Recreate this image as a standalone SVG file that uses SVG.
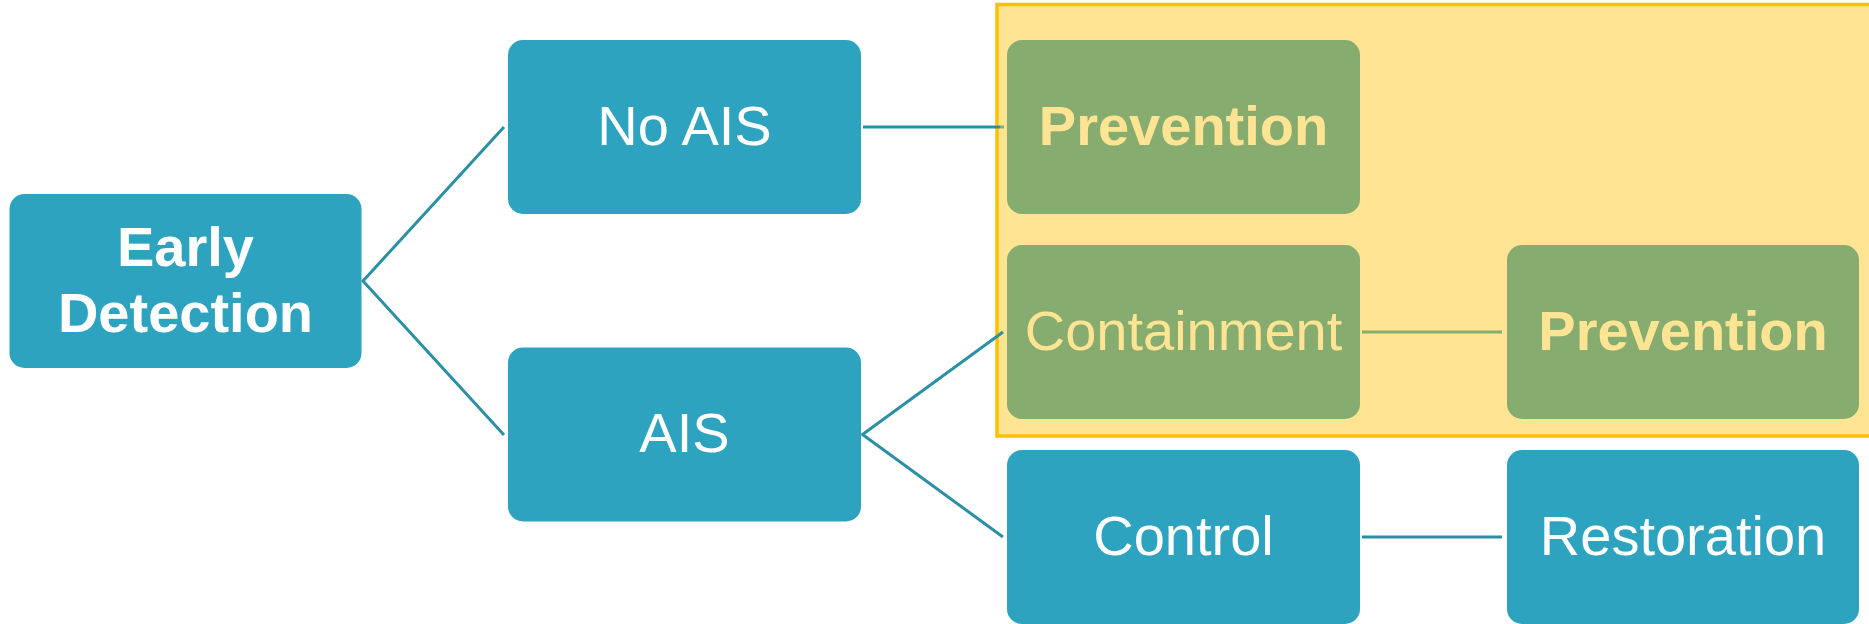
<svg xmlns="http://www.w3.org/2000/svg" width="1869" height="624" viewBox="0 0 1869 624">
  <style>
    .teal { fill: #2EA3BF; }
    .green { fill: #86AD6F; }
    .lbl { font-family: "Liberation Sans", Arial, sans-serif; font-size: 56px; text-anchor: middle; }
    .w { fill: #FFFFFF; }
    .y { fill: #FFE493; }
    .b { font-weight: bold; }
    .conn { stroke: #2B8FA6; stroke-width: 3; fill: none; }
    .conng { stroke: #86AD6F; stroke-width: 3; fill: none; }
  </style>
  <rect width="1869" height="624" fill="#FFFFFF"/>
  <g id="highlight">
    <rect x="997" y="4.5" width="880" height="431.5" fill="#FFE493" stroke="#FFC000" stroke-width="3.5"/>
  </g>
  <g id="connectors">
    <polyline class="conn" points="504,127 363,281 504,435"/>
    <line class="conn" x1="863" y1="127" x2="1000" y2="127"/>
    <line class="conng" x1="1000" y1="127" x2="1004" y2="127"/>
    <polyline class="conn" points="1003,332 862.5,434.5 1003,537"/>
    <line class="conng" x1="1362" y1="332" x2="1502" y2="332"/>
    <line class="conn" x1="1362" y1="537" x2="1502" y2="537"/>
  </g>
  <g id="node-early-detection">
    <rect class="teal" x="9.5" y="194" width="352" height="174" rx="15"/>
    <text class="lbl w b" x="185.5" y="266">Early</text>
    <text class="lbl w b" x="185.5" y="332">Detection</text>
  </g>
  <g id="node-no-ais">
    <rect class="teal" x="508" y="40" width="353" height="174" rx="15"/>
    <text class="lbl w" x="684.5" y="145">No AIS</text>
  </g>
  <g id="node-ais">
    <rect class="teal" x="508" y="347.5" width="353" height="174" rx="15"/>
    <text class="lbl w" x="684.5" y="452">AIS</text>
  </g>
  <g id="node-prevention-1">
    <rect class="green" x="1007" y="40" width="353" height="174" rx="15"/>
    <text class="lbl y b" x="1183.5" y="145">Prevention</text>
  </g>
  <g id="node-containment">
    <rect class="green" x="1007" y="245" width="353" height="174" rx="15"/>
    <text class="lbl y" x="1183.5" y="349.5">Containment</text>
  </g>
  <g id="node-prevention-2">
    <rect class="green" x="1507" y="245" width="352" height="174" rx="15"/>
    <text class="lbl y b" x="1683" y="349.5">Prevention</text>
  </g>
  <g id="node-control">
    <rect class="teal" x="1007" y="450" width="353" height="174" rx="15"/>
    <text class="lbl w" x="1183.5" y="555">Control</text>
  </g>
  <g id="node-restoration">
    <rect class="teal" x="1507" y="450" width="352" height="174" rx="15"/>
    <text class="lbl w" x="1683" y="555">Restoration</text>
  </g>
</svg>
